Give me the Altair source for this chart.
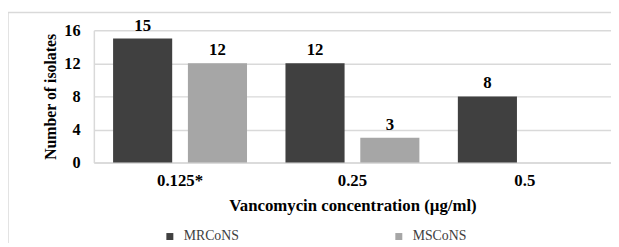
import altair as alt
import pandas as pd

categories = ["0.125*", "0.25", "0.5"]
series = ["MRCoNS", "MSCoNS"]
mrcons = [15, 12, 8]
mscons = [12, 3, None]
colors = ["#404040", "#a6a6a6"]

rows = []
for c, a, b in zip(categories, mrcons, mscons):
    rows.append({"conc": c, "group": "MRCoNS", "n": a})
    if b is not None:
        rows.append({"conc": c, "group": "MSCoNS", "n": b})
df = pd.DataFrame(rows)

FONT = "Liberation Serif"
W, H = 524, 134

x = alt.X("conc:N", sort=categories,
          scale=alt.Scale(paddingInner=0, paddingOuter=0),
          axis=alt.Axis(title="Vancomycin concentration (µg/ml)", labelAngle=0,
                        labelFontSize=17, titleFontSize=17,
                        labelPadding=10, titlePadding=10, ticks=False,
                        domainColor="#d9d9d9", domainWidth=1.5, grid=False))
xo = alt.XOffset("group:N", sort=series,
                 scale=alt.Scale(paddingInner=0.21, paddingOuter=0.257))
y = alt.Y("n:Q", scale=alt.Scale(domain=[0, 16], nice=False),
          axis=alt.Axis(title="Number of isolates", values=[0, 4, 8, 12, 16],
                        labelOverlap=False, labelFontSize=16.5, titleFontSize=16,
                        labelPadding=14, titlePadding=5, ticks=False,
                        domain=True, domainColor="#d9d9d9", domainWidth=1.5,
                        gridColor="#d9d9d9", gridWidth=1.5))
color = alt.Color("group:N", sort=series,
                  scale=alt.Scale(domain=series, range=colors),
                  legend=alt.Legend(title=None, orient="none", legendX=70, legendY=202,
                                    direction="horizontal", symbolType="square",
                                    symbolSize=50, symbolStrokeWidth=0,
                                    labelFontSize=14,
                                    labelColor="#404040", columnPadding=154,
                                    labelOffset=7))

base = alt.Chart(df).encode(x=x, xOffset=xo, y=y)
bars = base.mark_bar().encode(color=color)
labels = base.mark_text(dy=-4, fontSize=17, fontWeight="bold",
                        color="#000", baseline="bottom").encode(text="n:Q")
frame = alt.Chart(pd.DataFrame({"a": [0]})).mark_rect(
    filled=False, stroke="#d9d9d9", strokeWidth=1.5).encode(
    x=alt.value(-87), x2=alt.value(W + 20), y=alt.value(-18), y2=alt.value(H + 100))

chart = alt.layer(frame, bars, labels).properties(
    width=W, height=H,
    autosize=alt.AutoSizeParams(type="none"),
    padding={"left": 87, "top": 21, "right": 0, "bottom": 80},
    background="white",
).configure_view(stroke=None).configure_axis(
    labelFont=FONT, titleFont=FONT,
    labelFontWeight="bold", titleFontWeight="bold", labelColor="#000", titleColor="#000"
).configure_legend(labelFont=FONT).configure_text(font=FONT)

chart.save("out.html", embed_options={"renderer": "svg", "actions": False})
